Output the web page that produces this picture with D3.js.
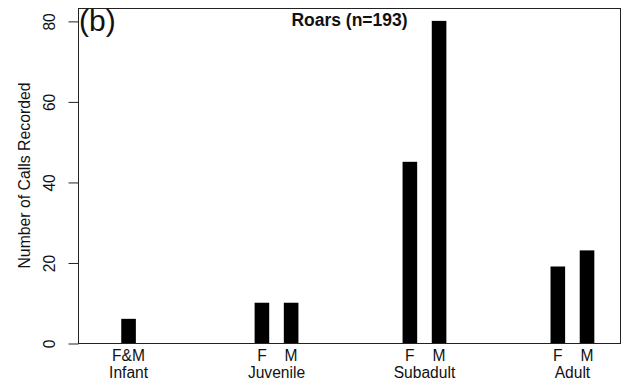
<!DOCTYPE html>
<html>
<head>
<meta charset="utf-8">
<script src="https://cdn.jsdelivr.net/npm/d3@7"></script>
<style>
  html, body { margin: 0; padding: 0; background: #fff; }
  svg { display: block; font-family: "Liberation Sans", Arial, Helvetica, sans-serif; }
</style>
</head>
<body>
<svg id="chart" width="627" height="386"></svg>
<script>
// Roar counts by age class and sex
const ageClasses = ["Infant", "Juvenile", "Subadult", "Adult"];
const barAge = ["Infant", "Juvenile", "Juvenile", "Subadult", "Subadult", "Adult", "Adult"];
const barSex = ["F&M", "F", "M", "F", "M", "F", "M"];
const calls = [6, 10, 10, 45, 80, 19, 23];
const yTicks = [0, 20, 40, 60, 80];

const W = 627, H = 386;
const margin = { left: 78, right: 6, top: 8, bottom: 43 };
const plotL = margin.left, plotR = W - margin.right;
const plotT = margin.top, plotB = H - margin.bottom;
const labelSize = 15.6;

const svg = d3.select("#chart");

const x = d3.scalePoint().domain(ageClasses).range([plotL, plotR]).padding(0.335).align(0.51);
const barW = x.step() * 0.0987;
const y = d3.scaleLinear().domain([0, 83.2]).range([plotB, plotT]);

// offset of each bar inside its age class (single bar centred, pairs side by side with a gap)
const bars = calls.map((v, i) => {
  const n = barAge.filter(a => a === barAge[i]).length;
  const k = barAge.slice(0, i).filter(a => a === barAge[i]).length;
  const off = n === 1 ? 0 : (k === 0 ? -barW : barW);
  return { age: barAge[i], sex: barSex[i], value: v, cx: x(barAge[i]) + off };
});

svg.append("g").selectAll("rect").data(bars).join("rect")
  .attr("x", d => d.cx - barW / 2)
  .attr("y", d => y(d.value))
  .attr("width", barW)
  .attr("height", d => y(0) - y(d.value))
  .attr("fill", "#000");

// plot frame
svg.append("rect")
  .attr("x", plotL + 0.5).attr("y", plotT + 0.5)
  .attr("width", plotR - plotL - 1).attr("height", plotB - plotT)
  .attr("fill", "none").attr("stroke", "#222").attr("stroke-width", 1);

// y axis with vertical tick labels
const yAxis = svg.append("g")
  .attr("transform", `translate(${plotL + 0.5},0.5)`)
  .call(d3.axisLeft(y).tickValues(yTicks).tickSize(10).tickFormat(d3.format("d")));
yAxis.select(".domain").remove();
yAxis.selectAll(".tick line").attr("stroke", "#222");
yAxis.selectAll(".tick text")
  .attr("x", null).attr("dy", null)
  .attr("transform", "translate(-24,0) rotate(-90)")
  .attr("text-anchor", "middle")
  .attr("font-size", labelSize)
  .attr("font-family", "Liberation Sans, Arial, sans-serif")
  .attr("fill", "#111");

// y axis title
svg.append("text")
  .attr("transform", `translate(29.5,${(plotT + plotB) / 2}) rotate(-90)`)
  .attr("text-anchor", "middle")
  .attr("font-size", 15.8)
  .attr("fill", "#111")
  .text("Number of Calls Recorded");

// sex labels under each bar
svg.append("g").selectAll("text").data(bars).join("text")
  .attr("x", d => d.cx)
  .attr("y", 361)
  .attr("text-anchor", "middle")
  .attr("font-size", labelSize)
  .attr("fill", "#111")
  .text(d => d.sex);

// age class labels
svg.append("g").selectAll("text").data(ageClasses).join("text")
  .attr("x", d => x(d))
  .attr("y", 378)
  .attr("text-anchor", "middle")
  .attr("font-size", labelSize)
  .attr("fill", "#111")
  .text(d => d);

// panel tag and heading
svg.append("text")
  .attr("x", 79).attr("y", 31)
  .attr("font-size", 30)
  .attr("fill", "#111")
  .text("(b)");

svg.append("text")
  .attr("x", (plotL + plotR) / 2).attr("y", 26)
  .attr("text-anchor", "middle")
  .attr("font-size", 17.5)
  .attr("font-weight", "bold")
  .attr("fill", "#111")
  .text("Roars (n=193)");
</script>
</body>
</html>
